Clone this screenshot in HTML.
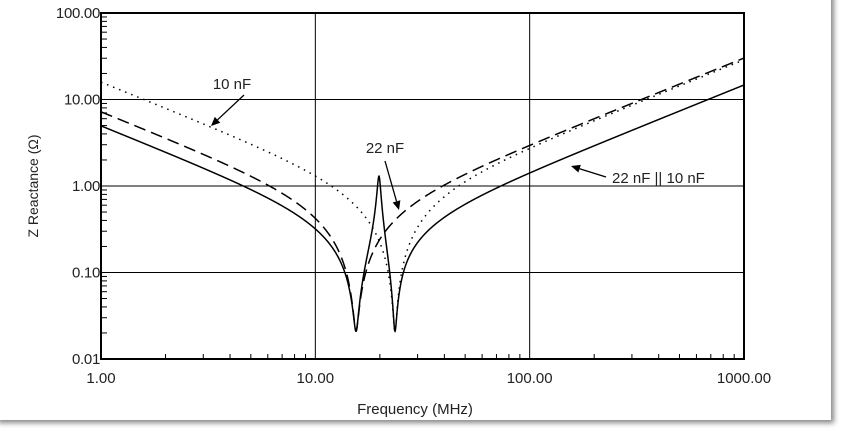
<!DOCTYPE html>
<html><head><meta charset="utf-8"><style>
body{margin:0;background:#fff;width:847px;height:437px;overflow:hidden;font-family:"Liberation Sans",sans-serif}
#card{position:absolute;left:-5px;top:-10px;width:836px;height:430px;background:#fff;box-shadow:3px 3px 5px #888}
</style></head><body><div id="card"></div>
<svg id="s" width="847" height="437" style="position:absolute;left:0;top:0" font-family="Liberation Sans, sans-serif" font-size="15" fill="#222"></svg>
<script>
const s=document.getElementById('s');
const X0=101,X1=744,Y0=13,Y1=359;
const fx=f=>X0+(Math.log10(f))*(X1-X0)/3;
const fy=v=>Y1-(Math.log10(v)+2)*(Y1-Y0)/4;
let h='';
for(let d=0;d<3;d++)for(let k=2;k<10;k++){const x=fx(Math.pow(10,d)*k);h+=`<line x1="${x}" x2="${x}" y1="${Y1}" y2="${Y1-5}" stroke="#000"/>`;}
for(let d=-2;d<2;d++)for(let k=2;k<10;k++){const y=fy(Math.pow(10,d)*k);h+=`<line x1="${X0}" x2="${X0+6}" y1="${y}" y2="${y}" stroke="#000"/>`;}
[1,2].forEach(i=>{const x=X0+i*(X1-X0)/3;h+=`<line x1="${x}" x2="${x}" y1="${Y0}" y2="${Y1}" stroke="#000"/>`;});
[1,2,3].forEach(i=>{const y=Y0+i*(Y1-Y0)/4;h+=`<line x1="${X0}" x2="${X1}" y1="${y}" y2="${y}" stroke="#000"/>`;});
h+=`<rect x="${X0}" y="${Y0}" width="${X1-X0}" height="${Y1-Y0}" fill="none" stroke="#000" stroke-width="2"/>`;
['100.00','10.00','1.00','0.10','0.01'].forEach((t,i)=>h+=`<text x="${X0-1}" y="${Y0+i*(Y1-Y0)/4+5}" text-anchor="end" letter-spacing="-0.3">${t}</text>`);
['1.00','10.00','100.00','1000.00'].forEach((t,i)=>h+=`<text x="${X0+i*(X1-X0)/3}" y="383" text-anchor="middle">${t}</text>`);
h+=`<text x="415" y="414" text-anchor="middle">Frequency (MHz)</text>`;
h+=`<text transform="translate(38,186) rotate(-90)" text-anchor="middle" font-size="14">Z Reactance (Ω)</text>`;
function z(f,C,L,R){const w=2*Math.PI*f*1e6;return [R,w*L-1/(w*C)];}
function par(a,b){const n=[a[0]*b[0]-a[1]*b[1],a[0]*b[1]+a[1]*b[0]];const d=[a[0]+b[0],a[1]+b[1]];const m=d[0]*d[0]+d[1]*d[1];return [(n[0]*d[0]+n[1]*d[1])/m,(n[1]*d[0]-n[0]*d[1])/m];}
const mag=c=>Math.hypot(c[0],c[1]);
function path(fn){let p='';for(let i=0;i<=3000;i++){const f=Math.pow(10,i/1000);const v=Math.max(fn(f),0.011);p+=(i?'L':'M')+fx(f).toFixed(2)+','+fy(v).toFixed(2);}return p;}
const a=f=>z(f,22e-9,4.8e-9,0.021),b=f=>z(f,10e-9,4.58e-9,0.021);
h+=`<path d="${path(f=>mag(b(f)))}" fill="none" stroke="#000" stroke-width="1.5" stroke-dasharray="1.5,5"/>`;
h+=`<path d="${path(f=>mag(a(f)))}" fill="none" stroke="#000" stroke-width="1.5" stroke-dasharray="12,6"/>`;
h+=`<path d="${path(f=>mag(par(a(f),b(f))))}" fill="none" stroke="#000" stroke-width="1.5"/>`;
function arrow(x1,y1,x2,y2){const an=Math.atan2(y2-y1,x2-x1),L=9,W=4;const bx=x2-L*Math.cos(an),by=y2-L*Math.sin(an);
return `<line x1="${x1}" y1="${y1}" x2="${bx}" y2="${by}" stroke="#000" stroke-width="1.3"/><polygon points="${x2},${y2} ${bx-W*Math.sin(an)},${by+W*Math.cos(an)} ${bx+W*Math.sin(an)},${by-W*Math.cos(an)}" fill="#000"/>`;}
h+=`<text x="232" y="89" text-anchor="middle">10 nF</text>`+arrow(244,95,211,126);
h+=`<text x="385" y="153" text-anchor="middle">22 nF</text>`+arrow(385,161,399,210);
h+=`<text x="612" y="183">22 nF || 10 nF</text>`+arrow(606,177,571,166);
s.innerHTML=h;
</script></body></html>
